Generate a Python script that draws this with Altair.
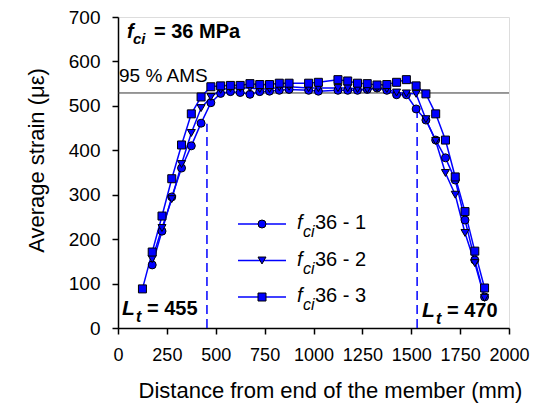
import altair as alt
import pandas as pd

# ---------------- data ----------------
series_names = ["fci36 - 1", "fci36 - 2", "fci36 - 3"]

x_s1 = [175, 225, 275, 325, 375, 425, 475, 525, 575, 625, 675, 725, 775, 825, 875, 975, 1025,
        1125, 1175, 1225, 1275, 1325, 1375, 1425, 1475, 1525, 1575, 1625, 1675, 1725, 1775, 1825, 1875]
y_s1 = [142, 218, 295, 360, 410, 461, 507, 528, 532, 530, 526, 532, 533, 535, 537, 535, 533,
        535, 535, 535, 537, 540, 535, 525, 525, 493, 468, 423, 383, 333, 243, 153, 70]

x_s2 = [175, 225, 275, 325, 375, 425, 475, 525, 575, 625, 675, 725, 775, 825, 875, 975, 1025,
        1125, 1175, 1225, 1275, 1325, 1375, 1425, 1475, 1525, 1575, 1625, 1675, 1725, 1775, 1825, 1875]
y_s2 = [155, 225, 290, 369, 439, 495, 520, 536, 540, 540, 540, 538, 538, 542, 543, 540, 540,
        540, 540, 538, 537, 540, 538, 530, 528, 527, 470, 421, 349, 300, 214, 146, 68]

x_s3 = [125, 175, 225, 275, 325, 375, 425, 475, 525, 575, 625, 675, 725, 775, 825, 875, 975, 1025,
        1125, 1175, 1225, 1275, 1325, 1375, 1425, 1475, 1525, 1575, 1625, 1675, 1725, 1775, 1825, 1875]
y_s3 = [88, 171, 252, 336, 412, 482, 520, 543, 545, 546, 546, 550, 548, 548, 551, 551, 551, 553,
        559, 556, 551, 550, 547, 548, 553, 559, 545, 527, 482, 423, 340, 262, 173, 90]

ams_95 = 529            # 95 % AMS level
lt_left = 455           # transfer length, left end
lt_right = 470          # transfer length, right end
member_length = 2000
lt_left_top = 460
lt_right_top = 490

x_ticks = [0, 250, 500, 750, 1000, 1250, 1500, 1750, 2000]
y_ticks = [0, 100, 200, 300, 400, 500, 600, 700]

# ---------------- frames ----------------
rows = []
for name, xs, ys in [(series_names[0], x_s1, y_s1), (series_names[1], x_s2, y_s2), (series_names[2], x_s3, y_s3)]:
    for xv, yv in zip(xs, ys):
        rows.append({"series": name, "x": xv, "y": yv})
df = pd.DataFrame(rows)

dash_df = pd.DataFrame({"x": [lt_left, member_length - lt_right],
                        "y0": [0, 0], "y1": [lt_left_top, lt_right_top]})
ams_df = pd.DataFrame({"x0": [0], "x1": [member_length], "y": [ams_95]})

FONT = "Liberation Sans"
BLUE = "#0000FF"
W, H = 391, 311

xscale = alt.Scale(domain=[0, 2000], nice=False, zero=False)
yscale = alt.Scale(domain=[0, 700], nice=False)
shape_scale = alt.Scale(domain=series_names, range=["circle", "triangle-down", "square"])

xaxis = alt.Axis(values=x_ticks, format="d", labelOverlap=False, labelFlush=False,
                 title="Distance from end of the member (mm)", grid=False,
                 labelFontSize=18, titleFontSize=22, labelFont=FONT, titleFont=FONT,
                 labelColor="black", titleColor="black", domainColor="black", tickColor="black",
                 tickSize=6, labelPadding=12, titleFontWeight="normal", domainWidth=1.5, tickWidth=1.5,
                 titleX=212, titleY=69, titleBaseline="alphabetic", titleAnchor="middle", titleAlign="center")
yaxis = alt.Axis(values=y_ticks, format="d", labelOverlap=False, labelFlush=False,
                 title="Average strain (\u03bc\u03b5)", grid=False,
                 labelFontSize=19, titleFontSize=22, labelFont=FONT, titleFont=FONT,
                 labelColor="black", titleColor="black", domainColor="black", tickColor="black",
                 tickSize=6, labelPadding=12, titleFontWeight="normal", domainWidth=1.5, tickWidth=1.5,
                 titleX=-75, titleY=143, titleBaseline="alphabetic", titleAnchor="middle", titleAlign="center")

base = alt.Chart(df)

lines = base.mark_line(color=BLUE, strokeWidth=1.5).encode(
    x=alt.X("x:Q", scale=xscale, axis=xaxis),
    y=alt.Y("y:Q", scale=yscale, axis=yaxis),
    detail="series:N",
)
points = base.mark_point(filled=True, fill=BLUE, stroke="black", strokeWidth=1, opacity=1, size=64).encode(
    x=alt.X("x:Q", scale=xscale),
    y=alt.Y("y:Q", scale=yscale),
    shape=alt.Shape("series:N", scale=shape_scale, legend=None),
)

dashes = alt.Chart(dash_df).mark_rule(color=BLUE, strokeWidth=1.5, strokeDash=[9, 5]).encode(
    x=alt.X("x:Q", scale=xscale), y=alt.Y("y0:Q", scale=yscale), y2="y1:Q")
ams = alt.Chart(ams_df).mark_rule(color="#333333", strokeWidth=1).encode(
    x=alt.X("x0:Q", scale=xscale), x2="x1:Q", y=alt.Y("y:Q", scale=yscale))

def txt(s, x, y, size, weight="normal", style="normal", align="left"):
    return alt.Chart(pd.DataFrame({"t": [s]})).mark_text(
        font=FONT, fontSize=size, fontWeight=weight, fontStyle=style, align=align,
        baseline="alphabetic", color="black").encode(
        x=alt.value(x), y=alt.value(y), text="t:N")

annos = [
    txt("95 % AMS", 1, 65, 19),
    txt("f", 9, 21, 20, "bold", "italic"),
    txt("ci", 15, 27, 15, "bold", "italic"),
    txt("= 36 MPa", 36, 21, 20, "bold"),
    txt("L", 4, 298, 21, "bold", "italic"),
    txt("t", 18, 305, 16, "bold", "italic"),
    txt("= 455", 29, 298, 20, "bold"),
    txt("L", 304, 300, 21, "bold", "italic"),
    txt("t", 318, 307, 16, "bold", "italic"),
    txt("= 470", 329, 300, 20, "bold"),
]

legend_layers = []
legend_shapes = ["circle", "triangle-down", "square"]
for i, (name, shp) in enumerate(zip(series_names, legend_shapes)):
    ry = 207 + i * 36.5
    legend_layers.append(alt.Chart(pd.DataFrame({"s": [name]})).mark_rule(color=BLUE, strokeWidth=1.5).encode(
        x=alt.value(120), x2=alt.value(168), y=alt.value(ry)))
    legend_layers.append(alt.Chart(pd.DataFrame({"s": [name]})).mark_point(
        shape=shp, filled=True, fill=BLUE, stroke="black", strokeWidth=1, opacity=1, size=64).encode(
        x=alt.value(144), y=alt.value(ry)))
    legend_layers.append(txt("f", 179, ry + 5, 20, "normal", "italic"))
    legend_layers.append(txt("ci", 185, ry + 13, 16, "normal", "italic"))
    legend_layers.append(txt(name[3:], 197, ry + 5, 20))

chart = alt.layer(ams, dashes, lines, points, *annos, *legend_layers).properties(
    width=W, height=H,
    autosize=alt.AutoSizeParams(type="none"),
    padding={"left": 118, "top": 17, "right": 34, "bottom": 75},
).configure_view(stroke="black", strokeWidth=1.5).configure(background="white")

chart.save("out.html", embed_options={"renderer": "svg", "actions": False})
